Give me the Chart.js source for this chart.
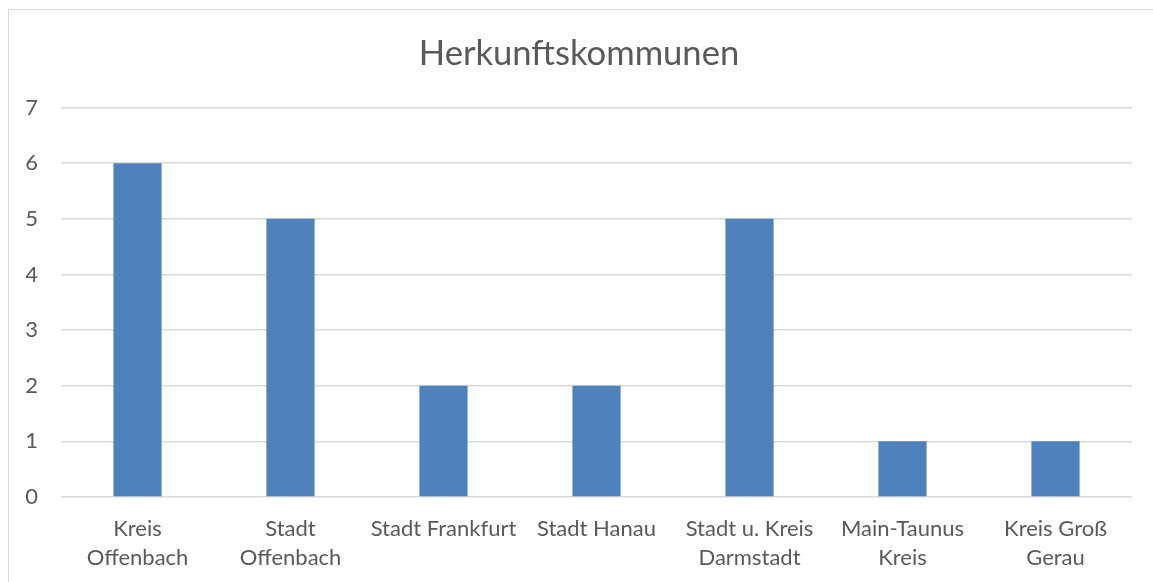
<!DOCTYPE html>
<html>
<head>
<meta charset="utf-8">
<script src="https://cdn.jsdelivr.net/npm/chart.js@4/dist/chart.umd.min.js"></script>
<style>
  body { margin: 0; background: #fff; }
  #rahmen { position: absolute; left: 8px; top: 9px; width: 1300px; height: 700px;
            border-left: 1px solid #d9d9d9; border-top: 1px solid #d9d9d9; }
  #box { position: absolute; left: 0; top: 0; width: 1153px; height: 582px; }
</style>
</head>
<body>
<div id="rahmen"></div>
<div id="box"><canvas id="herkunft"></canvas></div>
<script>
// Daten aus dem Diagramm
const kommunen = [
  ["Kreis", "Offenbach"],
  ["Stadt", "Offenbach"],
  "Stadt Frankfurt",
  "Stadt Hanau",
  ["Stadt u. Kreis", "Darmstadt"],
  ["Main-Taunus", "Kreis"],
  ["Kreis Groß", "Gerau"]
];
const anzahl = [6, 5, 2, 2, 5, 1, 1];
const yTicks = [0, 1, 2, 3, 4, 5, 6, 7];

const schrift = "Lato, 'Open Sans', sans-serif";
const grau = "#595959";

var ctx = document.getElementById("herkunft").getContext("2d");
var myChart = new Chart(ctx, {
  type: "bar",
  data: {
    labels: kommunen,
    datasets: [
      {
        data: anzahl,
        backgroundColor: "#4f81bd",
        barPercentage: 0.63,
        categoryPercentage: 0.5
      }
    ]
  },
  options: {
    responsive: true,
    maintainAspectRatio: false,
    animation: false,
    // links etwas Platz, damit der Titel ungefähr wie im Original sitzt
    layout: { padding: { left: 26, right: 21, top: 0, bottom: 0 } },
    plugins: {
      legend: { display: false },
      tooltip: { enabled: false },
      title: {
        display: true,
        text: "Herkunftskommunen",
        color: grau,
        font: { family: schrift, size: 34.6, weight: "normal" },
        padding: { top: 33, bottom: 33 }
      }
    },
    scales: {
      x: {
        grid: { display: false },
        border: { display: false },
        ticks: {
          color: grau,
          font: { family: schrift, size: 22, lineHeight: 1.32 },
          padding: 9,
          maxRotation: 0,
          autoSkip: false
        },
        afterFit: function (scale) { scale.height = 85; }
      },
      y: {
        min: 0,
        max: 7,
        afterBuildTicks: function (scale) {
          scale.ticks = yTicks.map((v) => ({ value: v }));
        },
        grid: { color: "#d9d9d9", lineWidth: 1.5, drawTicks: false },
        border: { display: false },
        ticks: {
          color: grau,
          font: { family: schrift, size: 22 },
          padding: 23
        },
        afterFit: function (scale) { scale.width = 35; }
      }
    }
  }
});
</script>
</body>
</html>
